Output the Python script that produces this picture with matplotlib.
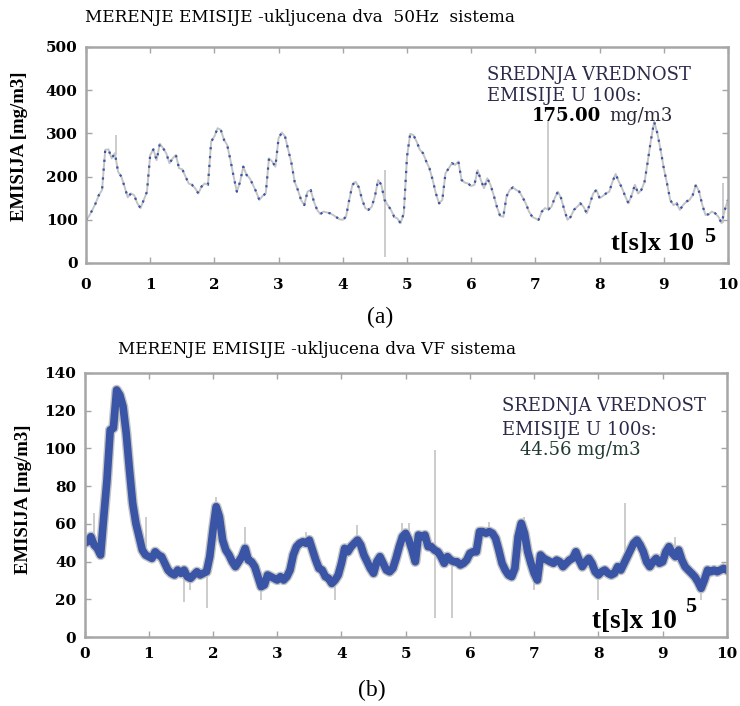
"""
Emission measurements (MERENJE EMISIJE) for two 50Hz systems (a) and two VF systems (b).
"""
import numpy as np
import matplotlib
matplotlib.use("Agg")
import matplotlib.pyplot as plt

# time axis in units of 1e5 s, one sample every 0.05
t_a = np.round(np.arange(0, 10.001, 0.05), 2)
t_b = np.round(np.arange(0, 10.001, 0.05), 2)

# (a) two 50Hz systems [mg/m3]
emis_a = [
    100, 109, 123, 138, 157, 169, 262, 263, 242, 254, 211, 200, 177, 152, 161, 157, 138, 127, 146, 165,
    250, 263, 238, 276, 266, 254, 231, 242, 250, 219, 217, 200, 184, 181, 173, 161, 177, 184, 181, 281,
    293, 312, 308, 285, 273, 238, 200, 165, 188, 223, 204, 196, 181, 165, 146, 155, 161, 242, 235, 223,
    289, 302, 293, 262, 231, 188, 169, 146, 134, 165, 169, 142, 123, 113, 119, 117, 115, 111, 106, 101,
    100, 107, 146, 181, 188, 175, 147, 127, 123, 130, 154, 192, 181, 146, 134, 123, 107, 103, 92, 115,
    246, 299, 296, 281, 262, 254, 235, 219, 192, 161, 138, 146, 208, 219, 231, 227, 235, 192, 186, 184,
    178, 181, 215, 192, 173, 196, 181, 157, 130, 109, 107, 154, 169, 175, 169, 165, 152, 138, 119, 107,
    103, 100, 119, 127, 124, 130, 150, 165, 150, 123, 100, 107, 123, 130, 138, 130, 115, 138, 161, 169,
    150, 155, 161, 165, 188, 206, 188, 173, 154, 138, 157, 181, 161, 169, 188, 235, 285, 327, 300, 262,
    219, 184, 146, 134, 138, 123, 134, 142, 146, 157, 181, 165, 134, 111, 113, 119, 115, 107, 92, 123,
    146,
]

# isolated spikes in (a): time, low, high
spike_a_t = [0.46, 4.65, 7.2, 9.92]
spike_a_lo = [250, 15, 124, 92]
spike_a_hi = [296, 215, 331, 184]

# (b) two VF systems [mg/m3]
emis_b = [
    49.7, 50.6, 53.2, 48.8, 47.0, 43.5, 63.8, 83.3, 109.8, 110.7, 131.0, 128.3, 122.2, 108.0, 88.6, 70.9, 60.3, 53.2, 46.1, 43.5,
    42.6, 41.7, 45.2, 43.5, 42.6, 39.1, 35.5, 33.8, 32.9, 35.5, 33.8, 35.5, 32.0, 31.1, 32.9, 34.6, 32.9, 33.8, 34.6, 42.6,
    56.7, 69.1, 63.8, 51.4, 46.1, 43.5, 39.9, 37.3, 39.9, 42.6, 47.0, 40.8, 39.9, 37.3, 32.0, 26.7, 27.6, 32.9, 32.0, 31.1,
    30.2, 32.0, 30.2, 32.0, 35.5, 43.5, 47.9, 49.7, 50.5, 49.7, 51.4, 46.1, 40.8, 36.4, 35.5, 32.0, 31.1, 28.4, 30.2, 32.9,
    39.1, 47.0, 45.2, 47.9, 49.7, 51.4, 48.8, 43.5, 39.9, 36.4, 33.8, 39.9, 42.6, 39.1, 35.5, 34.6, 36.4, 41.7, 47.9, 53.2,
    55.0, 51.4, 46.1, 39.9, 54.1, 53.2, 54.1, 47.9, 47.9, 46.1, 45.2, 42.6, 39.1, 42.6, 40.8, 39.9, 39.9, 38.2, 39.1, 40.8,
    44.4, 45.2, 45.2, 55.9, 55.9, 55.0, 55.9, 55.0, 52.3, 46.1, 39.1, 35.5, 32.9, 32.0, 36.4, 53.2, 60.3, 55.0, 45.2, 39.1,
    33.8, 30.2, 43.5, 41.7, 40.8, 39.9, 39.1, 40.8, 39.9, 37.3, 39.1, 40.8, 41.7, 45.2, 40.8, 37.3, 39.9, 41.7, 39.1, 34.6,
    32.9, 34.6, 35.5, 33.8, 32.9, 33.8, 37.3, 35.5, 39.1, 42.6, 46.1, 49.7, 51.4, 48.8, 45.2, 39.9, 37.3, 39.9, 41.7, 39.1,
    39.9, 45.2, 47.9, 44.4, 42.6, 46.1, 40.8, 37.3, 35.5, 33.8, 32.0, 29.3, 25.8, 30.2, 35.5, 34.6, 35.5, 34.6, 35.5, 36.4,
    35.5,
]

# isolated spikes in (b): time, low, high
spike_b_t = [0.14, 0.95, 1.0, 1.55, 1.65, 1.9, 2.05, 2.5, 2.75, 3.45, 3.9, 4.25, 4.95,
             5.05, 5.45, 5.72, 6.3, 6.85, 7.0, 8.0, 8.42, 9.2, 9.6]
spike_b_lo = [45, 45, 40, 18.7, 24.9, 15.2, 60, 45, 19.6, 48, 19.6, 48, 50,
              50, 9.9, 9.9, 54, 55, 24.9, 19.6, 38, 43, 19.6]
spike_b_hi = [65.6, 63.8, 44, 36, 33, 36, 74.4, 58.5, 30, 55.9, 31, 59.4, 60.3,
              60.3, 99.2, 42, 61.2, 63.8, 36, 34, 70.9, 53.2, 27]

x_ticks = list(range(0, 11))
y_ticks_a = [0, 100, 200, 300, 400, 500]
y_ticks_b = [0, 20, 40, 60, 80, 100, 120, 140]

SERIF = "Liberation Serif"
WIDE = "DejaVu Serif"
SPINE = "#a6a6a6"
BLUE = "#3a55a6"
GRAY = "#c4c4c4"
NAVY = "#2a2a4a"


def style_axes(ax, yticks, xpad):
    ax.set_xlim(0, 10)
    ax.set_ylim(yticks[0], yticks[-1])
    ax.set_xticks(x_ticks)
    ax.set_yticks(yticks)
    for s in ax.spines.values():
        s.set_color(SPINE)
        s.set_linewidth(1.8)
    ax.tick_params(direction="in", length=4, width=1, color=SPINE,
                   top=True, right=True, labelsize=11)
    ax.tick_params(axis="x", pad=xpad)
    ax.tick_params(axis="y", pad=6)
    for lab in ax.get_xticklabels() + ax.get_yticklabels():
        lab.set_fontfamily(WIDE)
        lab.set_fontweight("bold")
    ax.set_ylabel("EMISIJA [mg/m3]", fontfamily=SERIF, fontweight="bold",
                  fontsize=13.5, labelpad=4)


def note(ax, x, y, s, **kw):
    ax.text(x, y, s, transform=ax.transAxes, fontfamily=WIDE, fontsize=13,
            va="center", **kw)


fig = plt.figure(figsize=(7.4, 7.06), dpi=100)

# ---- (a) ----
ax1 = fig.add_axes([0.1162, 0.6275, 0.8676, 0.306])
ax1.vlines(spike_a_t, spike_a_lo, spike_a_hi, color=GRAY, lw=1.2)
ax1.plot(t_a, emis_a, color=GRAY, lw=1.4)
ax1.plot(t_a, emis_a, color=BLUE, lw=1.6, ls=(0, (1, 3)))
style_axes(ax1, y_ticks_a, 11)
ax1.yaxis.set_label_coords(-0.090, 0.54)

fig.text(85 / 740, 1 - 17 / 706, "MERENJE EMISIJE -ukljucena dva  50Hz  sistema",
         fontfamily=WIDE, fontsize=12.2, va="center", ha="left")
note(ax1, 0.625, 0.87, "SREDNJA VREDNOST", color=NAVY)
note(ax1, 0.625, 0.773, "EMISIJE U 100s:", color=NAVY)
note(ax1, 0.694, 0.68, "175.00", color="black", fontweight="bold")
note(ax1, 0.815, 0.68, "mg/m3", color="#2a2a3a")
ax1.text(0.818, 0.06, "t[s]x 10", transform=ax1.transAxes,
         fontfamily=SERIF, fontsize=19, fontweight="bold", va="baseline")
ax1.text(0.963, 0.095, "5", transform=ax1.transAxes,
         fontfamily=SERIF, fontsize=16, fontweight="bold", va="baseline")
fig.text(380 / 740, 1 - 317 / 706, "(a)", fontfamily=SERIF, fontsize=17,
         ha="center", va="center")

# ---- (b) ----
ax2 = fig.add_axes([0.1142, 0.0977, 0.868, 0.374])
ax2.vlines(spike_b_t, spike_b_lo, spike_b_hi, color=GRAY, lw=1.2)
ax2.plot(t_b, emis_b, color=GRAY, lw=7.5)
ax2.plot(t_b, emis_b, color=BLUE, lw=5.5)
style_axes(ax2, y_ticks_b, 7)
ax2.yaxis.set_label_coords(-0.082, 0.52)

fig.text(118 / 740, 1 - 350 / 706, "MERENJE EMISIJE -ukljucena dva VF sistema",
         fontfamily=WIDE, fontsize=12.2, va="center", ha="left")
note(ax2, 0.650, 0.875, "SREDNJA VREDNOST", color=NAVY)
note(ax2, 0.650, 0.785, "EMISIJE U 100s:", color=NAVY)
note(ax2, 0.678, 0.71, "44.56 mg/m3", color="#1f3a2f")
ax2.text(0.79, 0.035, "t[s]x 10", transform=ax2.transAxes,
         fontfamily=SERIF, fontsize=19.5, fontweight="bold", va="baseline")
ax2.text(0.935, 0.095, "5", transform=ax2.transAxes,
         fontfamily=SERIF, fontsize=16, fontweight="bold", va="baseline")
fig.text(372 / 740, 1 - 690 / 706, "(b)", fontfamily=SERIF, fontsize=17,
         ha="center", va="center")

plt.savefig("out.png", dpi=100)
